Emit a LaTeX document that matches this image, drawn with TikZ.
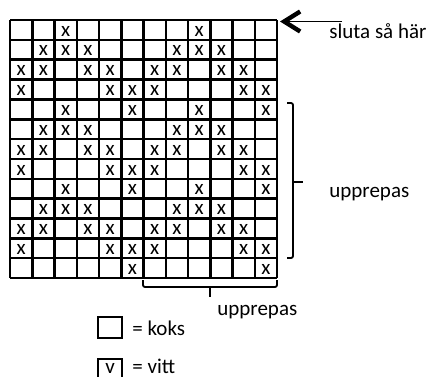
\documentclass[tikz,border=0pt]{standalone}
\usepackage{fontspec}
\setmainfont{Carlito}
\usetikzlibrary{arrows.meta}

\begin{document}
\begin{tikzpicture}[x=0.5pt,y=-0.5pt]
        \tikzset{every node/.style = {inner sep=0pt, font=\fontsize{10.5}{12}\selectfont},
                 gridline/.style = {line width=1.25pt},
                 brace/.style = {line width=0.9pt, rounded corners=1pt},
                 legendbox/.style = {draw, line width=1.1pt, minimum width=12pt, minimum height=10.7pt}}

        \clip (0,0) rectangle (432,376);

        % chart, 12 columns and 13 rows
        \begin{scope}[shift={(10,20)}, x=11.125pt, y=-9.925pt]
            \foreach \c in {0,...,12} \draw[gridline] (\c,0) -- (\c,13);
            \foreach \r in {0,...,13} \draw[gridline] (0,\r) -- (12,\r);

            \foreach \r/\cols in {1/{3,9}, 2/{2,3,4,8,9,10}, 3/{1,2,4,5,7,8,10,11}, 4/{1,5,6,7,11,12},
                                  5/{3,6,9,12}, 6/{2,3,4,8,9,10}, 7/{1,2,4,5,7,8,10,11}, 8/{1,5,6,7,11,12},
                                  9/{3,6,9,12}, 10/{2,3,4,8,9,10}, 11/{1,2,4,5,7,8,10,11}, 12/{1,5,6,7,11,12},
                                  13/{6,12}}
                \foreach \c in \cols
                    \node[yshift=-0.6pt] (x-\r-\c) at (\c-0.5, \r-0.5) {x};
        \end{scope}

        % end marker
        \coordinate (tail) at (342, 21.5);
        \coordinate (tip) at (280, 21.5);
        \draw[line width=0.8pt, -{Straight Barb[length=8pt, width=10pt, line width=2.2pt]}] (tail) -- (tip);
        \node[anchor=base west] (slut) at (329, 38) {sluta så här};

        % repeat, rows
        \draw[brace] (287, 103) -- (293, 103) -- (293, 258) -- (287, 258);
        \draw[brace] (293, 182) -- (303, 182);
        \node[anchor=base west] (upprad) at (329, 197) {upprepas};

        % repeat, columns
        \draw[brace] (143, 280) -- (143, 287) -- (277, 287) -- (277, 280);
        \draw[brace] (210, 287) -- (210, 297);
        \node[anchor=base west] (uppkol) at (217, 315) {upprepas};

        % legend
        \node[legendbox] (koks) at (110, 327.5) {};
        \node[anchor=base west] (kokstext) at (132, 335) {= koks};
        \draw[line width=1.1pt] (98, 359) rectangle (122, 380);
        \node[anchor=base] (vitt) at (110, 373.5) {v};
        \node[anchor=base west] (vitttext) at (132, 373) {= vitt};

    \end{tikzpicture}
\end{document}
